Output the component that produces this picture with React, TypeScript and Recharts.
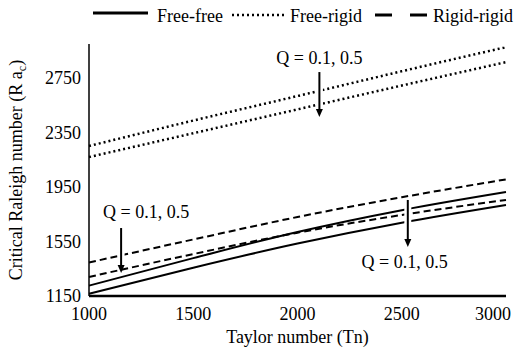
import React from "react";
import { LineChart, Line, XAxis, YAxis, ReferenceLine, ReferenceDot } from "recharts";

const FONT = "Liberation Serif, Times New Roman, serif";

// Taylor number (Tn)
const taylor = [1000, 1500, 2000, 2500, 3000];
// Free-free boundaries, Q = 0.1 and Q = 0.5
const freeFreeQ1 = [1226, 1428, 1620, 1780, 1913];
const freeFreeQ5 = [1167, 1358, 1535, 1688, 1818];
// Free-rigid boundaries
const freeRigidQ1 = [2251, 2438, 2618, 2800, 2977];
const freeRigidQ5 = [2170, 2345, 2520, 2695, 2867];
// Rigid-rigid boundaries
const rigidRigidQ1 = [1396, 1565, 1730, 1875, 2006];
const rigidRigidQ5 = [1290, 1458, 1615, 1745, 1855];

const xTicks = [1000, 1500, 2000, 2500, 3000];
const yTicks = [1150, 1550, 1950, 2350, 2750];

// annotation arrows: x, from, to ; label position
const arrowX = [2105, 1154, 2529];
const arrowFrom = [2794, 1649, 1855];
const arrowTo = [2464, 1319, 1510];
const noteX = [2105, 1274, 2514];
const noteY = [2897, 1767, 1400];
const noteText = "Q = 0.1, 0.5";

const data = taylor.map((tn, i) => ({
  tn,
  ff1: freeFreeQ1[i],
  ff5: freeFreeQ5[i],
  fr1: freeRigidQ1[i],
  fr5: freeRigidQ5[i],
  rr1: rigidRigidQ1[i],
  rr5: rigidRigidQ5[i],
}));

const Arrow = (p: any) => {
  const { x1, y1, x2, y2 } = p;
  return (
    <g>
      <line x1={x1} y1={y1} x2={x2} y2={y2 - 6} stroke="#fff" strokeWidth={7} />
      <line x1={x1} y1={y1} x2={x2} y2={y2 - 6} stroke="#000" strokeWidth={2} />
      <polygon points={`${x2 - 3.5},${y2 - 8} ${x2 + 3.5},${y2 - 8} ${x2},${y2}`} fill="#000" />
    </g>
  );
};

const XTick = (p: any) => {
  const { x, y, payload } = p;
  const last = payload.value === 3000;
  return (
    <text x={last ? x - 9 : x} y={y} dy="0.71em" textAnchor="middle" fontSize={18} fontFamily={FONT} fill="#000">
      {payload.value}
    </text>
  );
};

const YLabel = () => (
  <text x={22} y={170} transform="rotate(-90, 22, 170)" textAnchor="middle" fontSize={18} fontFamily={FONT} fill="#000">
    Critical Raleigh number (R a<tspan fontSize={12} dy={4}>c</tspan><tspan dy={-4}>)</tspan>
  </text>
);

const XLabel = (p: any) => {
  const vb = p.viewBox;
  return (
    <text x={vb.x + vb.width / 2} y={vb.y + 47} textAnchor="middle" fontSize={18} fontFamily={FONT} fill="#000">
      Taylor number (Tn)
    </text>
  );
};

function LegendRow() {
  const t = { fontSize: 18, fontFamily: FONT, fill: "#000" };
  return (
    <svg width={518} height={30} style={{ position: "absolute", left: 0, top: 0 }}>
      <line x1={93} y1={13} x2={148} y2={13} stroke="#000" strokeWidth={3} />
      <text x={157} y={22} {...t}>Free-free</text>
      <line x1={232} y1={15} x2={284} y2={15} stroke="#000" strokeWidth={2.5} strokeDasharray="2 3" />
      <text x={290} y={22} {...t}>Free-rigid</text>
      <line x1={375} y1={15} x2={392} y2={15} stroke="#000" strokeWidth={3} />
      <line x1={410} y1={15} x2={427} y2={15} stroke="#000" strokeWidth={3} />
      <text x={433} y={22} {...t}>Rigid-rigid</text>
    </svg>
  );
}

export default function App() {
  return (
    <div style={{ position: "absolute", left: 0, top: 0, width: 518, height: 358, background: "#fff" }}>
      <LineChart width={518} height={358} data={data} margin={{ top: 44, right: 12, left: 0, bottom: 0 }}>
        <XAxis
          dataKey="tn"
          type="number"
          domain={[1000, 3000]}
          ticks={xTicks}
          height={62}
          tickLine={false}
          tickSize={6}
          tickMargin={5}
          axisLine={{ stroke: "#000", strokeWidth: 2.5 }}
          tick={<XTick />}
          label={<XLabel />}
        />
        <YAxis
          type="number"
          domain={[1150, 3000]}
          ticks={yTicks}
          width={89}
          tickLine={false}
          tickSize={6}
          tickMargin={2}
          axisLine={{ stroke: "#000", strokeWidth: 1.5 }}
          tick={{ fontSize: 18, fontFamily: FONT, fill: "#000" }}
          label={<YLabel />}
        />
        <Line type="monotone" dataKey="fr1" stroke="#000" strokeWidth={2.5} strokeDasharray="2 3" dot={false} isAnimationActive={false} />
        <Line type="monotone" dataKey="fr5" stroke="#000" strokeWidth={2.5} strokeDasharray="2 3" dot={false} isAnimationActive={false} />
        <Line type="monotone" dataKey="rr1" stroke="#000" strokeWidth={2} strokeDasharray="7 4" dot={false} isAnimationActive={false} />
        <Line type="monotone" dataKey="rr5" stroke="#000" strokeWidth={2} strokeDasharray="7 4" dot={false} isAnimationActive={false} />
        <Line type="monotone" dataKey="ff1" stroke="#000" strokeWidth={2} dot={false} isAnimationActive={false} />
        <Line type="monotone" dataKey="ff5" stroke="#000" strokeWidth={2} dot={false} isAnimationActive={false} />
        {arrowX.map((x, i) => (
          <ReferenceLine
            key={"a" + i}
            segment={[{ x, y: arrowFrom[i] }, { x, y: arrowTo[i] }]}
            shape={Arrow}
          />
        ))}
        {noteX.map((x, i) => (
          <ReferenceDot
            key={"n" + i}
            x={x}
            y={noteY[i]}
            r={0}
            stroke="none"
            fill="none"
            label={{ value: noteText, position: "center", fontSize: 18, fontFamily: FONT, fill: "#000" }}
          />
        ))}
      </LineChart>
      <LegendRow />
    </div>
  );
}
